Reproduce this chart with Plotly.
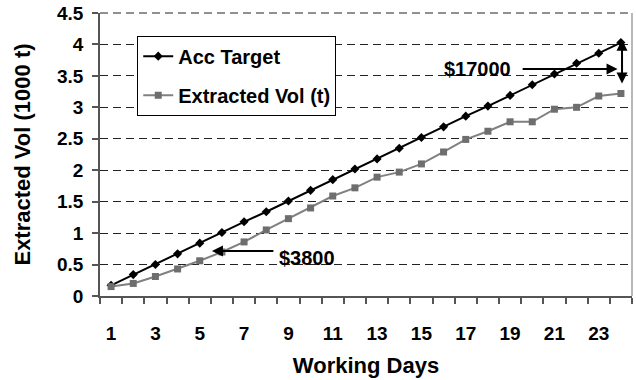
import plotly.graph_objects as go

days = list(range(1, 25))
acc_target = [0.17, 0.34, 0.50, 0.67, 0.84, 1.01, 1.18, 1.34, 1.51, 1.68, 1.85, 2.02,
              2.18, 2.35, 2.52, 2.69, 2.86, 3.02, 3.19, 3.36, 3.53, 3.70, 3.86, 4.03]
extracted = [0.15, 0.20, 0.31, 0.43, 0.56, 0.70, 0.86, 1.05, 1.23, 1.40, 1.59, 1.72,
             1.89, 1.97, 2.10, 2.29, 2.49, 2.62, 2.77, 2.77, 2.97, 3.00, 3.18, 3.22]
x_tick_labels = [str(d) for d in range(1, 24, 2)]
y_ticks = [0, 0.5, 1, 1.5, 2, 2.5, 3, 3.5, 4, 4.5]

FONT = "Arial, Liberation Sans, sans-serif"

fig = go.Figure()
fig.add_trace(go.Scatter(
    x=days, y=acc_target, name="Acc Target", mode="lines+markers",
    legendgroup="a",
    line=dict(color="black", width=2),
    marker=dict(symbol="diamond", size=7, color="black"),
))
fig.add_trace(go.Scatter(
    x=days, y=extracted, name="Extracted Vol (t)", mode="lines+markers",
    legendgroup="b",
    line=dict(color="#808080", width=2),
    marker=dict(symbol="square", size=7, color="#6e6e6e"),
))

# annotations
arrow = dict(showarrow=True, arrowhead=2, arrowsize=1.1, arrowwidth=2, arrowcolor="black",
             xref="x", yref="y", axref="x", ayref="y", text="")
fig.add_annotation(x=5.55, y=0.715, ax=8.39, ay=0.715, **arrow)
fig.add_annotation(x=9.85, y=0.60, text="$3800", showarrow=False,
                   font=dict(family=FONT, size=20, color="black", weight="bold"))
fig.add_annotation(x=23.85, y=3.61, ax=19.5, ay=3.61, **arrow)
fig.add_annotation(x=24.05, y=3.38, ax=24.05, ay=4.10, arrowside="end+start", **arrow)
fig.add_annotation(x=17.55, y=3.61, text="$17000", showarrow=False,
                   font=dict(family=FONT, size=20, color="black", weight="bold"))

# top dashed gridline and right border of plot area
fig.add_shape(type="line", xref="paper", yref="paper", x0=0, x1=1, y0=1, y1=1,
              line=dict(color="#222222", width=1, dash="8px,5px"), layer="below")
fig.add_shape(type="line", xref="paper", yref="paper", x0=1, x1=1, y0=0, y1=1,
              line=dict(color="#a0a0a0", width=1.5))

fig.update_layout(
    width=636, height=380,
    margin=dict(l=100, r=4, t=13, b=84),
    paper_bgcolor="white", plot_bgcolor="white",
    font=dict(family=FONT, size=19, color="black", weight="bold"),
    showlegend=True,
    legend=dict(x=0.07, y=0.92, xanchor="left", yanchor="top",
                bgcolor="white", bordercolor="black", borderwidth=1,
                font=dict(family=FONT, size=20, color="black", weight="bold"),
                itemwidth=30, tracegroupgap=10),
    xaxis=dict(
        range=[0.5, 24.5], tickmode="array",
        tickvals=list(range(1, 24, 2)), ticktext=x_tick_labels,
        ticks="", showgrid=False, zeroline=False,
        showline=True, linecolor="#555555", linewidth=1.5,
        ticklabelstandoff=19,
        tickfont=dict(family=FONT, size=19, weight="bold"),
        minor=dict(tick0=0.5, dtick=1, ticks="outside", ticklen=6,
                   tickcolor="#555555", tickwidth=1.5, showgrid=False),
        title=dict(text="Working Days", font=dict(family=FONT, size=22, weight="bold"),
                   standoff=15),
        fixedrange=True,
    ),
    yaxis=dict(
        range=[0, 4.5], tickmode="array", tickvals=y_ticks,
        ticktext=[f"{v:g}" for v in y_ticks],
        tickfont=dict(family=FONT, size=19, weight="bold"),
        ticklabeloverflow="allow",
        ticks="outside", ticklen=6, tickcolor="#555555", tickwidth=1.5,
        showgrid=True, gridcolor="#222222", gridwidth=1, griddash="8px,5px",
        zeroline=False, showline=True, linecolor="#555555", linewidth=1.5,
        ticklabelstandoff=5,
        title=dict(text="Extracted Vol (1000 t)", font=dict(family=FONT, size=22, weight="bold"),
                   standoff=20),
        fixedrange=True,
    ),
)

fig.write_html("out.html", config={"displayModeBar": False},
               post_script="document.body.style.margin='0';")
